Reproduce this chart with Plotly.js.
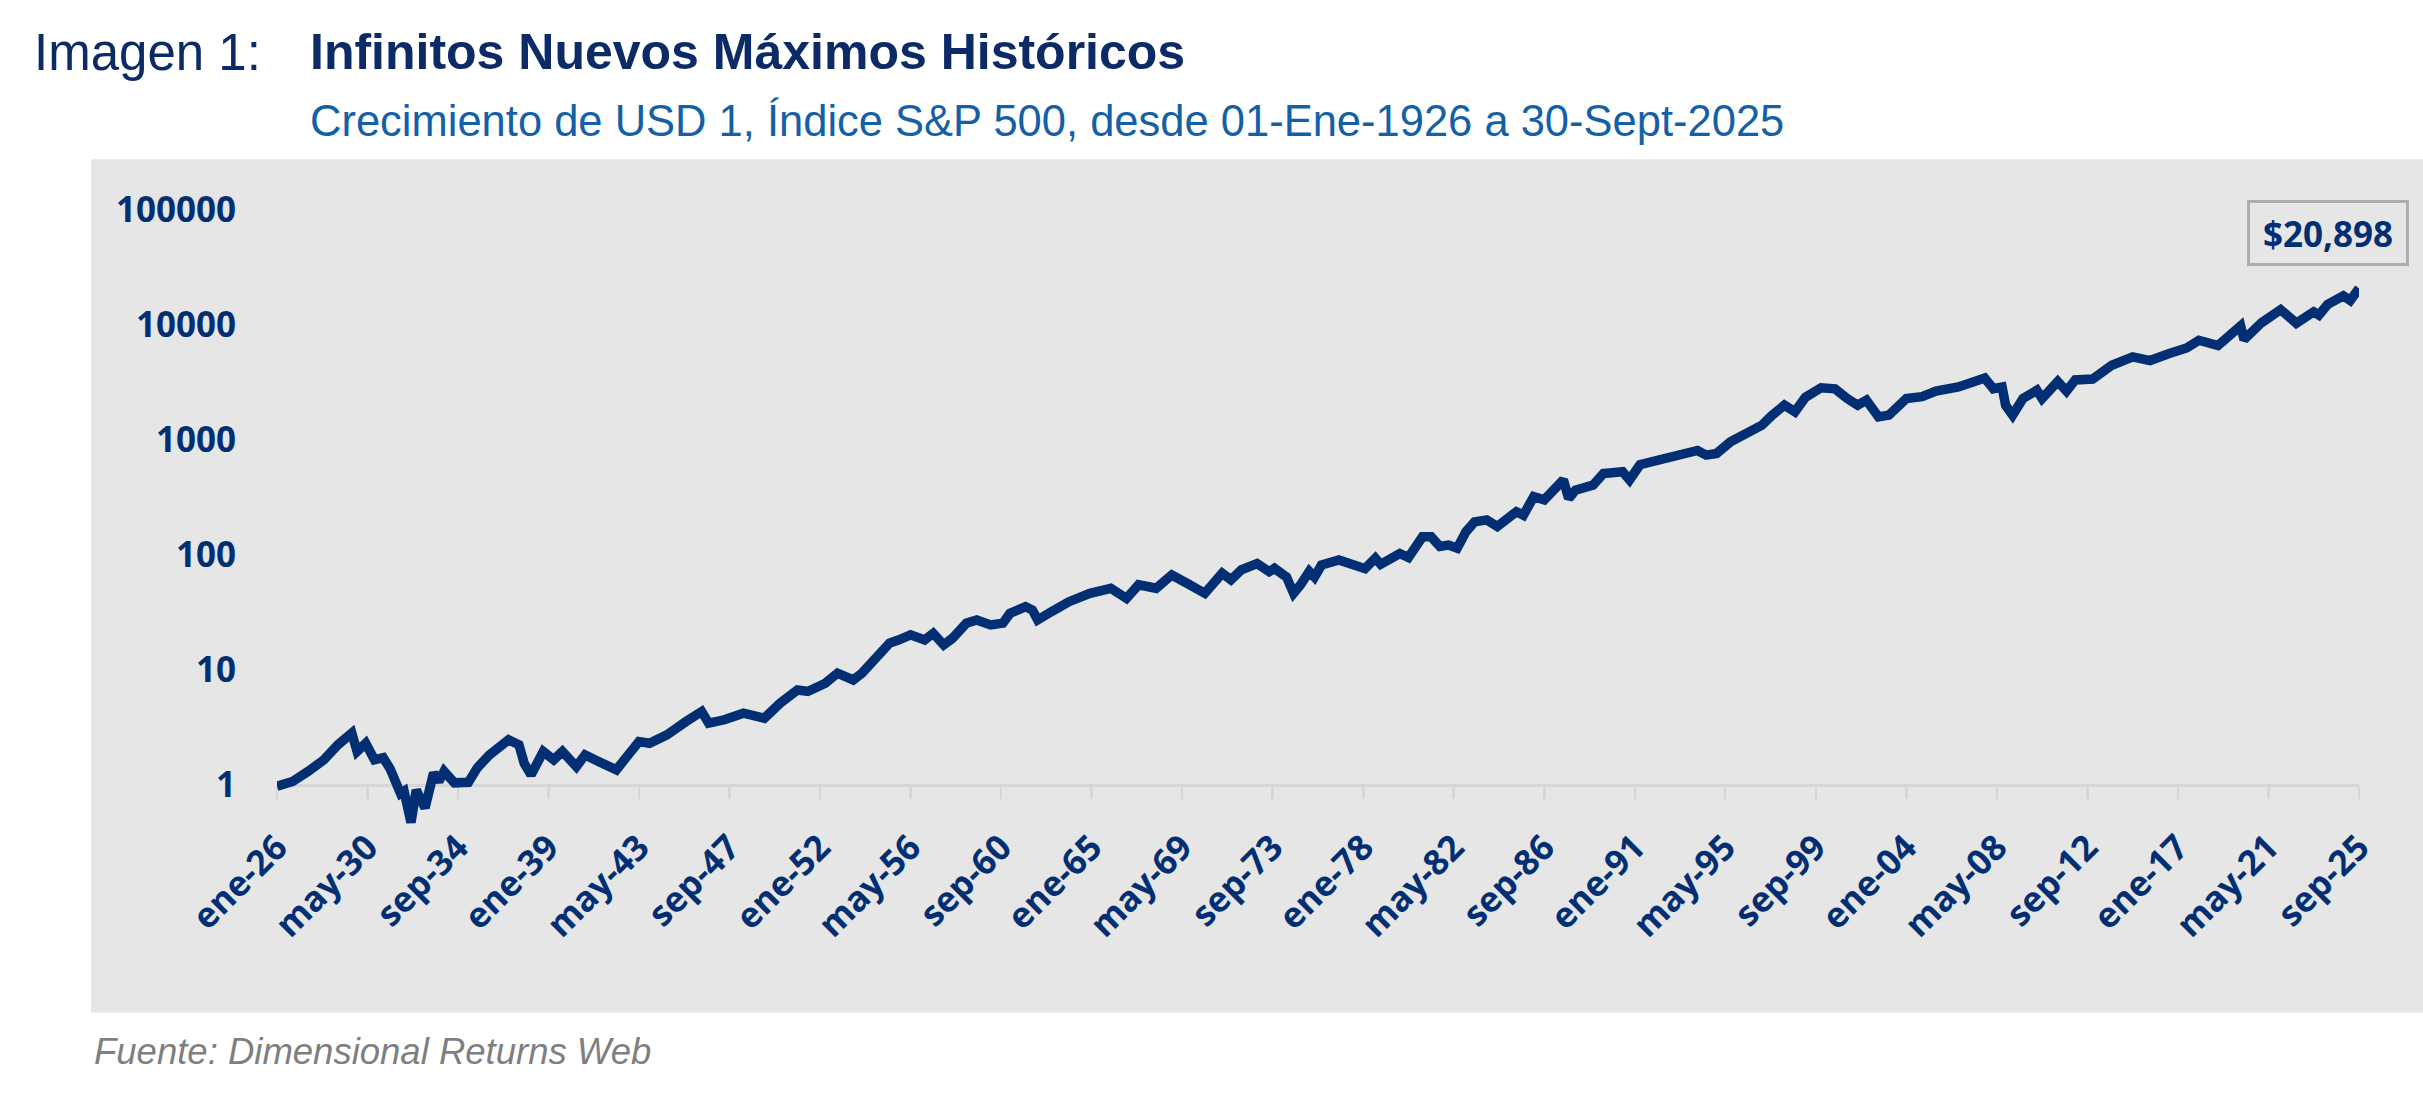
<!DOCTYPE html>
<html>
<head>
<meta charset="utf-8">
<script src="https://cdn.plot.ly/plotly-3.0.1.min.js"></script>
<style>
  html, body { margin: 0; padding: 0; background: #ffffff; }
  #chart { width: 2423px; height: 1102px; }
</style>
</head>
<body>
<div id="chart"></div>
<script>
// ---- Data (growth of USD 1, S&P 500) ----
const dates = [
  '1926-01','1926-10','1927-07','1928-04','1928-12','1929-08','1929-11','1930-04','1930-09','1931-02',
  '1931-06','1931-09','1931-12','1932-02','1932-06','1932-09','1933-02','1933-07','1933-10','1934-01',
  '1934-07','1935-03','1935-08','1936-03','1937-02','1937-08','1937-11','1938-03','1938-10','1939-04',
  '1939-09','1940-05','1940-10','1941-06','1942-04','1942-10','1943-05','1943-11','1944-09','1945-08',
  '1946-05','1946-09','1947-06','1948-05','1949-05','1950-02','1950-12','1951-06','1952-04','1952-11',
  '1953-08','1954-01','1954-10','1955-05','1955-10','1956-05','1957-01','1957-06','1957-12','1958-05',
  '1959-01','1959-07','1960-03','1960-10','1961-02','1961-11','1962-03','1962-06','1963-02','1963-12',
  '1964-12','1965-12','1966-09','1967-04','1968-02','1968-11','1969-08','1970-06','1971-04','1971-09',
  '1972-03','1972-12','1973-07','1973-10','1974-05','1974-09','1975-01','1975-06','1975-09','1976-01',
  '1976-11','1978-02','1978-08','1978-11','1979-10','1980-03','1980-11','1981-04','1981-09','1982-02',
  '1982-07','1982-12','1983-05','1983-12','1984-06','1984-12','1985-05','1985-09','1986-03','1986-09',
  '1987-02','1987-08','1987-11','1988-03','1989-01','1989-07','1990-06','1990-10','1991-04','1992-04',
  '1993-04','1994-01','1994-06','1994-12','1995-08','1996-06','1997-02','1997-08','1998-03','1998-09',
  '1999-03','1999-12','2000-08','2001-03','2001-09','2002-02','2002-09','2003-03','2004-01','2004-10',
  '2005-06','2006-07','2007-05','2007-10','2008-03','2008-08','2008-10','2009-02','2009-08','2010-04',
  '2010-07','2011-04','2011-09','2012-02','2012-12','2013-11','2014-11','2015-09','2016-08','2017-06',
  '2018-01','2018-12','2020-01','2020-03','2021-01','2021-12','2022-09','2023-07','2023-10','2024-03',
  '2024-12','2025-04','2025-09'
];
const growth = [
  0.97,1.07,1.31,1.65,2.23,2.82,1.95,2.30,1.65,1.72,
  1.38,1.02,0.84,0.88,0.47,0.90,0.63,1.27,1.07,1.31,
  1.04,1.05,1.40,1.82,2.46,2.23,1.54,1.22,1.95,1.65,
  1.95,1.44,1.82,1.59,1.35,1.76,2.38,2.30,2.72,3.55,
  4.34,3.44,3.68,4.20,3.80,5.13,6.69,6.49,7.66,9.36,
  8.17,9.36,13.5,17.1,18.2,20.2,18.2,20.8,16.5,18.8,
  25.5,27.2,24.6,25.5,31.0,35.5,33.2,27.2,32.2,39.2,
  46.3,51.3,41.9,55.0,51.3,67.0,56.5,46.4,69.3,60.8,
  74.3,84.2,71.6,76.5,64.2,46.4,55.0,72.0,64.2,81.7,
  90.6,76.0,93.6,83.0,103,95,144,144,118.5,122,
  114.5,159,194,202,177,202,238,222,322,302,
  367,450,311,367,405,511,530,450,610,670,
  740,812,740,765,967,1137,1349,1649,2013,1762,
  2350,2850,2795,2300,2010,2223,1590,1649,2300,2385,
  2665,2895,3339,3465,2795,2895,2010,1649,2300,2715,
  2300,3230,2665,3339,3400,4480,5300,4920,5660,6330,
  7385,6640,9860,7480,10500,13650,10400,13060,12240,15160,
  18000,16400,20898
];
const tickDates = [
  '1926-01','1930-05','1934-09','1939-01','1943-05','1947-09','1952-01','1956-05',
  '1960-09','1965-01','1969-05','1973-09','1978-01','1982-05','1986-09','1991-01',
  '1995-05','1999-09','2004-01','2008-05','2012-09','2017-01','2021-05','2025-09'
];
const tickLabels = [
  'ene-26','may-30','sep-34','ene-39','may-43','sep-47','ene-52','may-56',
  'sep-60','ene-65','may-69','sep-73','ene-78','may-82','sep-86','ene-91',
  'may-95','sep-99','ene-04','may-08','sep-12','ene-17','may-21','sep-25'
];
const yTickVals = [1, 10, 100, 1000, 10000, 100000];
const yTickText = ['1', '10', '100', '1000', '10000', '100000'];
const finalLabel = '$20,898';

// ---- Layout geometry (pixels) ----
const W = 2423, H = 1102;
const L = 277, R = 2359;
const yLogMin = -0.55, yLogMax = 5.15;
const pxPerDecade = 115;
const yAt1 = 785;
const T = yAt1 - yLogMax * pxPerDecade;
const B = yAt1 - yLogMin * pxPerDecade;
const px2x = p => (p - L) / (R - L);
const px2y = p => (B - p) / (B - T);

const navy = '#022F73';
const tickFont = { family: 'Open Sans, Lato, sans-serif', size: 35, color: navy, weight: 700 };

const trace = {
  x: dates, y: growth, type: 'scatter', mode: 'lines',
  line: { color: navy, width: 9.5 },
  hoverinfo: 'skip'
};

const layout = {
  width: W, height: H, autosize: false,
  margin: { l: L, r: W - R, t: T, b: H - B, pad: 0 },
  paper_bgcolor: '#ffffff',
  plot_bgcolor: 'rgba(0,0,0,0)',
  showlegend: false,
  xaxis: {
    type: 'date',
    range: ['1926-01-01', '2025-09-01'],
    tickvals: tickDates, ticktext: tickLabels,
    tickangle: -45, tickfont: tickFont,
    ticks: 'outside', ticklen: 12, tickwidth: 2.5, tickcolor: '#D6D6D6',
    showline: true, linecolor: '#D6D6D6', linewidth: 3,
    showgrid: false, zeroline: false,
    anchor: 'free', position: (0 - yLogMin) / (yLogMax - yLogMin),
    ticklabelstandoff: 14,
    layer: 'below traces'
  },
  yaxis: {
    type: 'log',
    range: [yLogMin, yLogMax],
    tickvals: yTickVals, ticktext: yTickText,
    tickfont: tickFont,
    ticks: '', showline: false, showgrid: false, zeroline: false,
    ticklabelstandoff: 40,
    layer: 'below traces'
  },
  shapes: [{
    type: 'rect', xref: 'paper', yref: 'paper', layer: 'below',
    x0: px2x(91), x1: px2x(W), y0: px2y(1013), y1: px2y(159),
    fillcolor: '#E6E6E6', line: { width: 0 }
  }],
  annotations: [
    { text: 'Imagen 1:', xref: 'paper', yref: 'paper', x: px2x(32), y: px2y(52),
      xanchor: 'left', yanchor: 'middle', showarrow: false,
      font: { family: 'Liberation Sans, Arial, sans-serif', size: 51, color: '#0B2A66' } },
    { text: '<b>Infinitos Nuevos Máximos Históricos</b>', xref: 'paper', yref: 'paper', x: px2x(308), y: px2y(52),
      xanchor: 'left', yanchor: 'middle', showarrow: false,
      font: { family: 'Liberation Sans, Arial, sans-serif', size: 50, color: '#0B2A66' } },
    { text: 'Crecimiento de USD 1, Índice S&P 500, desde 01-Ene-1926 a 30-Sept-2025', xref: 'paper', yref: 'paper',
      x: px2x(308), y: px2y(121), xanchor: 'left', yanchor: 'middle', showarrow: false,
      font: { family: 'Liberation Sans, Arial, sans-serif', size: 43.5, color: '#1460A6' } },
    { text: '<i>Fuente: Dimensional Returns Web</i>', xref: 'paper', yref: 'paper',
      x: px2x(92), y: px2y(1052), xanchor: 'left', yanchor: 'middle', showarrow: false,
      font: { family: 'Liberation Sans, Arial, sans-serif', size: 36.5, color: '#7F7F7F' } },
    { text: '<b>' + finalLabel + '</b>', xref: 'paper', yref: 'paper',
      x: px2x(2328), y: px2y(233), xanchor: 'center', yanchor: 'middle', showarrow: false,
      width: 152, height: 56, borderpad: 2, borderwidth: 3, bordercolor: '#ADADAD',
      font: { family: 'Open Sans, Lato, sans-serif', size: 35, color: navy } }
  ]
};

Plotly.newPlot('chart', [trace], layout, { displayModeBar: false, staticPlot: true });
</script>
</body>
</html>
